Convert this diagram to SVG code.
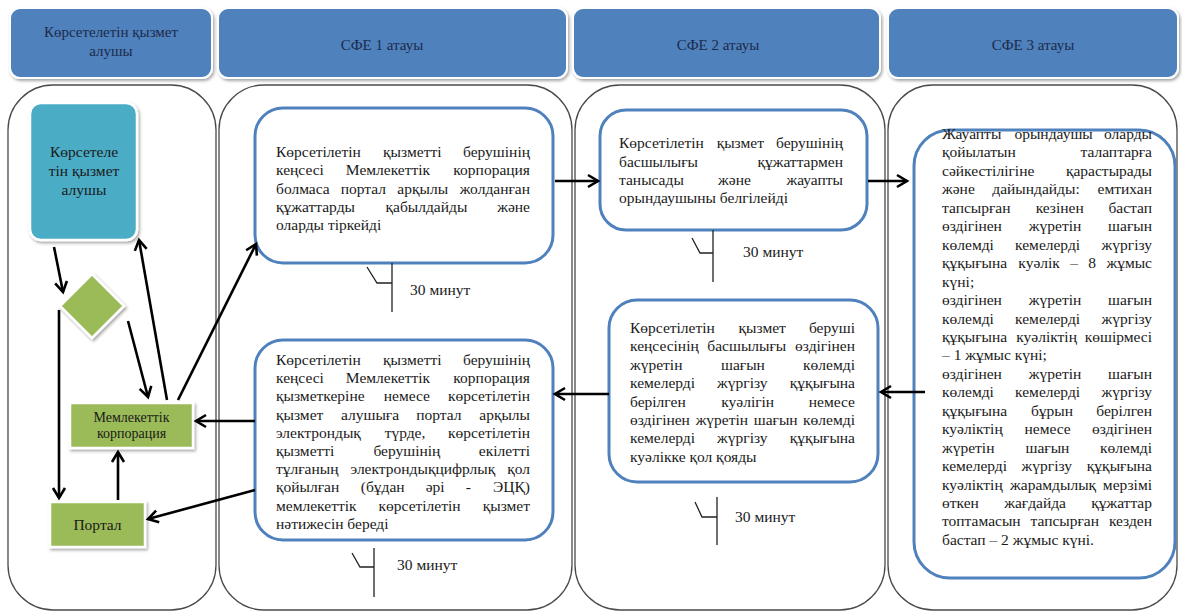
<svg xmlns="http://www.w3.org/2000/svg" width="1182" height="616" viewBox="0 0 1182 616">
<style>
.hdr{fill:#4f81bd;stroke:#ffffff;stroke-width:2}
.ht{font-family:'Liberation Serif','Times New Roman','DejaVu Serif',serif;font-size:15px;fill:#1c2b4a;text-anchor:middle}
.col{fill:#ffffff;stroke:#4a4a4a;stroke-width:1.3}
.box{fill:#ffffff;stroke:#4f81bd;stroke-width:3}
.t{font-family:'Liberation Serif','Times New Roman','DejaVu Serif',serif;font-size:15.5px;fill:#1a1a1a}
.m{text-anchor:middle}
.e{text-anchor:end}
.grn{fill:#9bbb59;stroke:#ffffff;stroke-width:2.5}
.teal{fill:#4bacc6;stroke:#ffffff;stroke-width:2.5}
.con{stroke:#000000;stroke-width:2.6;fill:none;marker-end:url(#ah)}
.tm{stroke:#222222;stroke-width:1.3;fill:none}
</style>
<defs>
<marker id="ah" markerUnits="userSpaceOnUse" markerWidth="16" markerHeight="16" refX="13" refY="8" orient="auto">
<path d="M3,2 L13,8 L3,14" fill="none" stroke="#000" stroke-width="2.6"/>
</marker>
<filter id="sh" x="-20%" y="-20%" width="140%" height="140%">
<feDropShadow dx="1.5" dy="2" stdDeviation="1.8" flood-color="#000" flood-opacity="0.35"/>
</filter>
</defs>

<g id="headers">
<g id="h1"><rect class="hdr" x="10" y="8" width="202" height="70" rx="10" filter="url(#sh)"/>
<text class="ht" x="111" y="37">Көрсетелетін қызмет</text><text class="ht" x="111" y="56">алушы</text></g>
<g id="h2"><rect class="hdr" x="218" y="8" width="349" height="70" rx="10" filter="url(#sh)"/>
<text class="ht" x="382" y="50">СФЕ 1 атауы</text></g>
<g id="h3"><rect class="hdr" x="573" y="8" width="307" height="70" rx="10" filter="url(#sh)"/>
<text class="ht" x="718" y="50">СФЕ 2 атауы</text></g>
<g id="h4"><rect class="hdr" x="888" y="8" width="290" height="70" rx="10" filter="url(#sh)"/>
<text class="ht" x="1033" y="50">СФЕ 3 атауы</text></g>
</g>

<g id="columns">
<rect class="col" x="8" y="85" width="208" height="525" rx="45"/>
<rect class="col" x="219" y="85" width="353" height="525" rx="45"/>
<rect class="col" x="575" y="85" width="310" height="525" rx="45"/>
<rect class="col" x="888" y="85" width="289" height="525" rx="45"/>
</g>

<g id="n-recipient"><rect class="teal" x="30" y="103" width="107" height="137" rx="11" filter="url(#sh)"/>
<text class="t m" x="84" y="157">Көрсетеле</text><text class="t m" x="84" y="176">тін қызмет</text><text class="t m" x="84" y="195">алушы</text></g>
<g id="n-decision"><polygon class="grn" points="92,274 124,306 92,338 60,306" filter="url(#sh)"/></g>
<g id="n-corp"><rect class="grn" x="70" y="403" width="123" height="45" filter="url(#sh)"/>
<text class="t m" x="131.5" y="421.5" style="font-size:14px">Мемлекеттік</text><text class="t m" x="131.5" y="438" style="font-size:14px">корпорация</text></g>
<g id="n-portal"><rect class="grn" x="50" y="502" width="95" height="45" filter="url(#sh)"/>
<text class="t m" x="97.5" y="530">Портал</text></g>

<g id="n-c2a"><rect class="box" x="255" y="108" width="298" height="155" rx="28"/>
<text class="t" y="157"><tspan x="276">Көрсетілетін</tspan><tspan class="m" x="412.3">қызметті</tspan><tspan class="e" x="530">берушінің</tspan></text>
<text class="t" y="175.3"><tspan x="276">кеңсесі</tspan><tspan class="m" x="388">Мемлекеттік</tspan><tspan class="e" x="530">корпорация</tspan></text>
<text class="t" y="193.6"><tspan x="276">болмаса</tspan><tspan class="m" x="363.3">портал</tspan><tspan class="m" x="422.7">арқылы</tspan><tspan class="e" x="530">жолданған</tspan></text>
<text class="t" y="211.9"><tspan x="276">құжаттарды</tspan><tspan class="m" x="426.4">қабылдайды</tspan><tspan class="e" x="530">және</tspan></text>
<text class="t" x="276" y="230.2">оларды тіркейді</text></g>

<g id="n-c2b"><rect class="box" x="255" y="340" width="298" height="200" rx="28"/>
<text class="t" y="365"><tspan x="276">Көрсетілетін</tspan><tspan class="m" x="412.3">қызметті</tspan><tspan class="e" x="530">берушінің</tspan></text>
<text class="t" y="383.2"><tspan x="276">кеңсесі</tspan><tspan class="m" x="388">Мемлекеттік</tspan><tspan class="e" x="530">корпорация</tspan></text>
<text class="t" y="401.4"><tspan x="276">қызметкеріне</tspan><tspan class="m" x="406.9">немесе</tspan><tspan class="e" x="530">көрсетілетін</tspan></text>
<text class="t" y="419.6"><tspan x="276">қызмет</tspan><tspan class="m" x="370">алушыға</tspan><tspan class="m" x="438.8">портал</tspan><tspan class="e" x="530">арқылы</tspan></text>
<text class="t" y="437.8"><tspan x="276">электрондық</tspan><tspan class="m" x="405">түрде,</tspan><tspan class="e" x="530">көрсетілетін</tspan></text>
<text class="t" y="456"><tspan x="276">қызметті</tspan><tspan class="m" x="406.9">берушінің</tspan><tspan class="e" x="530">екілетті</tspan></text>
<text class="t" y="474.2"><tspan x="276">тұлғаның</tspan><tspan class="m" x="422.9">электрондықцифрлық</tspan><tspan class="e" x="530">қол</tspan></text>
<text class="t" y="492.4"><tspan x="276">қойылған</tspan><tspan class="m" x="382.7">(бұдан</tspan><tspan class="m" x="435.2">әрі</tspan><tspan class="m" x="468.4">-</tspan><tspan class="e" x="530">ЭЦҚ)</tspan></text>
<text class="t" y="510.6"><tspan x="276">мемлекеттік</tspan><tspan class="m" x="419.6">көрсетілетін</tspan><tspan class="e" x="530">қызмет</tspan></text>
<text class="t" x="276" y="528.8">нәтижесін береді</text></g>

<g id="n-c3a"><rect class="box" x="600" y="110" width="267" height="120" rx="26"/>
<text class="t" y="148.3"><tspan x="619">Көрсетілетін</tspan><tspan class="m" x="740.3">қызмет</tspan><tspan class="e" x="843">берушінің</tspan></text>
<text class="t" y="166.6"><tspan x="619">басшылығы</tspan><tspan class="e" x="843">құжаттармен</tspan></text>
<text class="t" y="184.9"><tspan x="619">танысады</tspan><tspan class="m" x="734.5">және</tspan><tspan class="e" x="843">жауапты</tspan></text>
<text class="t" x="619" y="203.2">орындаушыны белгілейді</text></g>

<g id="n-c3b"><rect class="box" x="609" y="300" width="269" height="182" rx="28"/>
<text class="t" y="333"><tspan x="630">Көрсетілетін</tspan><tspan class="m" x="762.2">қызмет</tspan><tspan class="e" x="855">беруші</tspan></text>
<text class="t" y="351.4"><tspan x="630">кеңсесінің</tspan><tspan class="m" x="746.8">басшылығы</tspan><tspan class="e" x="855">өздігінен</tspan></text>
<text class="t" y="369.8"><tspan x="630">жүретін</tspan><tspan class="m" x="742.9">шағын</tspan><tspan class="e" x="855">көлемді</tspan></text>
<text class="t" y="388.2"><tspan x="630">кемелерді</tspan><tspan class="m" x="742.3">жүргізу</tspan><tspan class="e" x="855">құқығына</tspan></text>
<text class="t" y="406.6"><tspan x="630">берілген</tspan><tspan class="m" x="747.7">куәлігін</tspan><tspan class="e" x="855">немесе</tspan></text>
<text class="t" y="425"><tspan x="630">өздігінен</tspan><tspan class="m" x="721.9">жүретін</tspan><tspan class="m" x="775.7">шағын</tspan><tspan class="e" x="855">көлемді</tspan></text>
<text class="t" y="443.4"><tspan x="630">кемелерді</tspan><tspan class="m" x="742.3">жүргізу</tspan><tspan class="e" x="855">құқығына</tspan></text>
<text class="t" x="630" y="461.8">куәлікке қол қояды</text></g>

<g id="n-c4"><rect class="box" x="914" y="130" width="261" height="448" rx="36"/>
<text class="t" y="139"><tspan x="942">Жауапты</tspan><tspan class="m" x="1053.6">орындаушы</tspan><tspan class="e" x="1152">оларды</tspan></text>
<text class="t" y="157.45"><tspan x="942">қойылатын</tspan><tspan class="e" x="1152">талаптарға</tspan></text>
<text class="t" y="175.9"><tspan x="942">сәйкестілігіне</tspan><tspan class="e" x="1152">қарастырады</tspan></text>
<text class="t" y="194.35"><tspan x="942">және</tspan><tspan class="m" x="1036">дайындайды:</tspan><tspan class="e" x="1152">емтихан</tspan></text>
<text class="t" y="212.8"><tspan x="942">тапсырған</tspan><tspan class="m" x="1059.7">кезінен</tspan><tspan class="e" x="1152">бастап</tspan></text>
<text class="t" y="231.25"><tspan x="942">өздігінен</tspan><tspan class="m" x="1055.1">жүретін</tspan><tspan class="e" x="1152">шағын</tspan></text>
<text class="t" y="249.7"><tspan x="942">көлемді</tspan><tspan class="m" x="1047.6">кемелерді</tspan><tspan class="e" x="1152">жүргізу</tspan></text>
<text class="t" y="268.15"><tspan x="942">құқығына</tspan><tspan class="m" x="1039.1">куәлік</tspan><tspan class="m" x="1074.2">–</tspan><tspan class="m" x="1092.1">8</tspan><tspan class="e" x="1152">жұмыс</tspan></text>
<text class="t" x="942" y="286.6">күні;</text>
<text class="t" y="305.05"><tspan x="942">өздігінен</tspan><tspan class="m" x="1055.1">жүретін</tspan><tspan class="e" x="1152">шағын</tspan></text>
<text class="t" y="323.5"><tspan x="942">көлемді</tspan><tspan class="m" x="1047.6">кемелерді</tspan><tspan class="e" x="1152">жүргізу</tspan></text>
<text class="t" y="341.95"><tspan x="942">құқығына</tspan><tspan class="m" x="1046.6">куәліктің</tspan><tspan class="e" x="1152">көшірмесі</tspan></text>
<text class="t" x="942" y="360.4">– 1 жұмыс күні;</text>
<text class="t" y="378.85"><tspan x="942">өздігінен</tspan><tspan class="m" x="1055.1">жүретін</tspan><tspan class="e" x="1152">шағын</tspan></text>
<text class="t" y="397.3"><tspan x="942">көлемді</tspan><tspan class="m" x="1047.6">кемелерді</tspan><tspan class="e" x="1152">жүргізу</tspan></text>
<text class="t" y="415.75"><tspan x="942">құқығына</tspan><tspan class="m" x="1052">бұрын</tspan><tspan class="e" x="1152">берілген</tspan></text>
<text class="t" y="434.2"><tspan x="942">куәліктің</tspan><tspan class="m" x="1047.6">немесе</tspan><tspan class="e" x="1152">өздігінен</tspan></text>
<text class="t" y="452.65"><tspan x="942">жүретін</tspan><tspan class="m" x="1047.4">шағын</tspan><tspan class="e" x="1152">көлемді</tspan></text>
<text class="t" y="471.1"><tspan x="942">кемелерді</tspan><tspan class="m" x="1046.8">жүргізу</tspan><tspan class="e" x="1152">құқығына</tspan></text>
<text class="t" y="489.55"><tspan x="942">куәліктің</tspan><tspan class="m" x="1053.1">жарамдылық</tspan><tspan class="e" x="1152">мерзімі</tspan></text>
<text class="t" y="508"><tspan x="942">өткен</tspan><tspan class="m" x="1035.1">жағдайда</tspan><tspan class="e" x="1152">құжаттар</tspan></text>
<text class="t" y="526.45"><tspan x="942">топтамасын</tspan><tspan class="m" x="1064.8">тапсырған</tspan><tspan class="e" x="1152">кезден</tspan></text>
<text class="t" x="942" y="544.9">бастап – 2 жұмыс күні.</text></g>

<g id="timers">
<g id="tm1"><path class="tm" d="M392,263 V312 M367,267 L377,283 H392"/><text class="t" x="410" y="295">30 минут</text></g>
<g id="tm2"><path class="tm" d="M374,548 V597 M352,553 L360,567 H374"/><text class="t" x="397" y="570">30 минут</text></g>
<g id="tm3"><path class="tm" d="M713,230 V282 M692,238 L700,253 H713"/><text class="t" x="743" y="257">30 минут</text></g>
<g id="tm4"><path class="tm" d="M717,497 V545 M695,502 L702,517 H717"/><text class="t" x="735" y="522">30 минут</text></g>
</g>

<g id="connectors">
<line class="con" x1="54" y1="247" x2="63" y2="292"/>
<line class="con" x1="59" y1="310" x2="59" y2="498"/>
<line class="con" x1="128" y1="321" x2="148" y2="397"/>
<line class="con" x1="167" y1="400" x2="139" y2="240"/>
<line class="con" x1="178" y1="400" x2="256" y2="244"/>
<line class="con" x1="118" y1="500" x2="118" y2="452"/>
<line class="con" x1="255" y1="421" x2="196" y2="421"/>
<line class="con" x1="255" y1="490" x2="148" y2="519"/>
<line class="con" x1="555" y1="181" x2="598" y2="181"/>
<line class="con" x1="868" y1="181" x2="907" y2="181"/>
<line class="con" x1="925" y1="392" x2="881" y2="392"/>
<line class="con" x1="609" y1="394" x2="555" y2="394"/>
</g>
</svg>
